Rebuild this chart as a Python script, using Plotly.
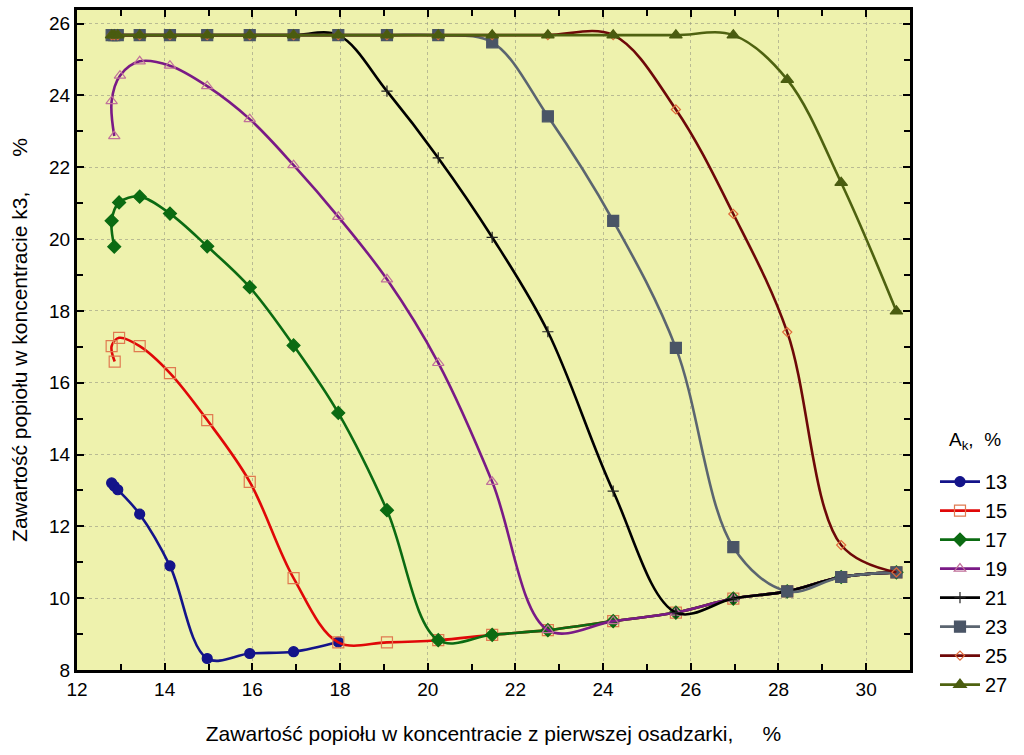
import plotly.graph_objects as go

# ---- data ----
series_names = ["13", "15", "17", "19", "21", "23", "25", "27"]

x_13 = [12.79, 12.85, 12.93, 13.43, 14.12, 14.97, 15.94, 16.94, 17.96]
y_13 = [13.21, 13.12, 13.02, 12.34, 10.90, 8.32, 8.46, 8.51, 8.78]

x_15 = [12.86, 12.79, 12.96, 13.43, 14.12, 14.97, 15.94, 16.94, 17.96, 19.07,
        20.24, 21.47, 22.74, 24.23, 25.66, 26.97, 28.20, 29.43, 30.69]
y_15 = [16.59, 17.02, 17.25, 17.02, 16.27, 14.96, 13.24, 10.56, 8.77, 8.77,
        8.83, 8.98, 9.11, 9.36, 9.60, 9.99, 10.19, 10.59, 10.72]

x_17 = [12.85, 12.79, 12.96, 13.43, 14.12, 14.97, 15.94, 16.94, 17.96, 19.07,
        20.24, 21.47, 22.74, 24.23, 25.66, 26.97, 28.20, 29.43, 30.69]
y_17 = [19.79, 20.51, 21.02, 21.18, 20.71, 19.80, 18.66, 17.04, 15.16, 12.45,
        8.83, 8.98, 9.11, 9.36, 9.60, 9.99, 10.19, 10.59, 10.72]

x_19 = [12.85, 12.79, 12.98, 13.43, 14.12, 14.97, 15.94, 16.94, 17.96, 19.07,
        20.24, 21.47, 22.74, 24.23, 25.66, 26.97, 28.20, 29.43, 30.69]
y_19 = [22.87, 23.84, 24.55, 24.95, 24.83, 24.26, 23.34, 22.06, 20.62, 18.88,
        16.55, 13.24, 9.11, 9.36, 9.60, 9.99, 10.19, 10.59, 10.72]

x_21 = [12.79, 12.85, 12.93, 13.43, 14.12, 14.97, 15.94, 16.94, 17.96, 19.07,
        20.24, 21.47, 22.74, 24.23, 25.66, 26.97, 28.20, 29.43, 30.69]
y_21 = [25.68, 25.68, 25.68, 25.68, 25.68, 25.68, 25.68, 25.68, 25.68, 24.12,
        22.26, 20.05, 17.42, 12.98, 9.60, 9.99, 10.19, 10.59, 10.72]

x_23 = [12.79, 12.85, 12.93, 13.43, 14.12, 14.97, 15.94, 16.94, 17.96, 19.07,
        20.24, 21.47, 22.74, 24.23, 25.66, 26.97, 28.20, 29.43, 30.69]
y_23 = [25.68, 25.68, 25.68, 25.68, 25.68, 25.68, 25.68, 25.68, 25.68, 25.68,
        25.68, 25.48, 23.42, 20.51, 16.97, 11.42, 10.19, 10.59, 10.72]

x_25 = [12.79, 12.85, 12.93, 13.43, 14.12, 14.97, 15.94, 16.94, 17.96, 19.07,
        20.24, 21.47, 22.74, 24.23, 25.66, 26.97, 28.20, 29.43, 30.69]
y_25 = [25.68, 25.68, 25.68, 25.68, 25.68, 25.68, 25.68, 25.68, 25.68, 25.68,
        25.68, 25.68, 25.68, 25.68, 23.61, 20.70, 17.41, 11.48, 10.72]

x_27 = [12.79, 12.85, 12.93, 13.43, 14.12, 14.97, 15.94, 16.94, 17.96, 19.07,
        20.24, 21.47, 22.74, 24.23, 25.66, 26.97, 28.20, 29.43, 30.69]
y_27 = [25.68, 25.68, 25.68, 25.68, 25.68, 25.68, 25.68, 25.68, 25.68, 25.68,
        25.68, 25.68, 25.68, 25.68, 25.68, 25.68, 24.44, 21.57, 17.99]

xs = [x_13, x_15, x_17, x_19, x_21, x_23, x_25, x_27]
ys = [y_13, y_15, y_17, y_19, y_21, y_23, y_25, y_27]

legend_title = "A<sub>k</sub>,\u00a0\u00a0%"

# ---- styles ----
line_colors = ["#14148a", "#e00808", "#0b6b12", "#7a1a86", "#000000", "#5b6570", "#6e0808", "#4e6210"]
marker_colors = ["#14148a", "#e07a50", "#0b6b12", "#c0709a", "#222222", "#4a5566", "#e06a3a", "#4a5c10"]
marker_symbols = ["circle", "square-open", "diamond", "triangle-up-open", "cross-thin-open",
                  "square", "diamond-open", "triangle-up"]
marker_sizes = [10, 11, 10, 10, 8, 11, 7, 11]

FONT = "Liberation Sans, Arial, sans-serif"
NB = "\u00a0"

fig = go.Figure()
for i, name in enumerate(series_names):
    fig.add_trace(go.Scatter(
        x=xs[i], y=ys[i], name=name, mode="lines+markers",
        legendgroup=name,
        line=dict(color=line_colors[i], width=2.6, shape="spline", smoothing=1.0),
        marker=dict(symbol=marker_symbols[i], size=marker_sizes[i], color=marker_colors[i],
                    line=dict(color=marker_colors[i], width=1.2)),
    ))

axis_common = dict(
    showline=True, linecolor="black", linewidth=3, mirror="ticks",
    ticks="inside", ticklen=7, tickwidth=2, tickcolor="black",
    showgrid=True, gridcolor="rgba(150,150,130,0.6)", griddash="dot", gridwidth=1,
    zeroline=False,
    tickfont=dict(family=FONT, size=19, color="black"),
    minor=dict(ticks="inside", ticklen=6, tickwidth=2, tickcolor="black", dtick=1, showgrid=False),
)

fig.update_xaxes(
    range=[12, 31], dtick=2, tick0=12,
    title=dict(text="Zawartość popiołu w koncentracie z pierwszej osadzarki," + NB * 5 + "%",
               font=dict(family=FONT, size=21, color="black"), standoff=28),
    **axis_common,
)
fig.update_yaxes(
    range=[8, 26.38], dtick=2, tick0=8,
    title=dict(text="Zawartość popiołu w koncentracie k3," + NB * 6 + "%",
               font=dict(family=FONT, size=21, color="black"), standoff=16),
    **axis_common,
)

plot_left, plot_right, plot_top, plot_bottom = 77, 1024 - 114, 7, 755 - 85

fig.add_annotation(
    x=(975 - plot_left) / (plot_right - plot_left),
    y=(plot_bottom - 440) / (plot_bottom - plot_top),
    xref="paper", yref="paper", xanchor="center", yanchor="middle",
    text=legend_title, showarrow=False,
    font=dict(family=FONT, size=19, color="black"),
)

fig.update_layout(
    width=1024, height=755,
    margin=dict(l=plot_left, r=1024 - plot_right, t=plot_top, b=755 - plot_bottom),
    paper_bgcolor="white",
    plot_bgcolor="#EEF2AD",
    font=dict(family=FONT, size=19, color="black"),
    legend=dict(
        x=1.03, y=0.315, xanchor="left", yanchor="top",
        font=dict(family=FONT, size=20, color="black"),
        bgcolor="rgba(0,0,0,0)", tracegroupgap=0,
        itemwidth=40,
    ),
    showlegend=True,
)

fig.write_html("out.html")
